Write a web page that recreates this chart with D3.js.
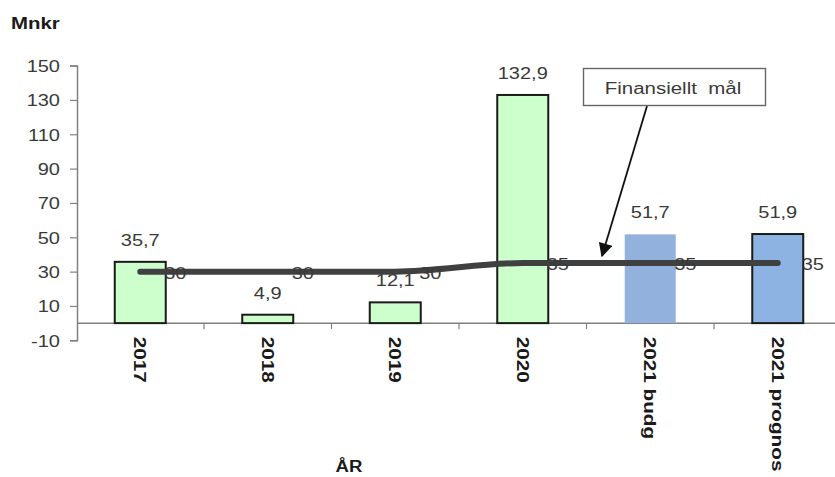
<!DOCTYPE html>
<html><head><meta charset="utf-8">
<script src="https://cdn.jsdelivr.net/npm/d3@7"></script>
<style>html,body{margin:0;padding:0;background:#fff;}svg{display:block;font-family:"Liberation Sans",Arial,sans-serif;}</style>
</head><body>
<svg id="c" width="835" height="477"></svg>
<script>
const categories = ["2017","2018","2019","2020","2021 budg","2021 prognos"];
const barValues = [35.7, 4.9, 12.1, 132.9, 51.7, 51.9];
const barLabels = ["35,7","4,9","12,1","132,9","51,7","51,9"];
const targetValues = [30, 30, 30, 35, 35, 35];
const yTicks = [-10, 10, 30, 50, 70, 90, 110, 130, 150];
const barFills = ["#ccffcc","#ccffcc","#ccffcc","#ccffcc","#92b1dc","#8db3e2"];
const barStroked = [true,true,true,true,false,true];

const SX = 1.25; // horizontal stretch of the reference's text
const svg = d3.select("#c");
const x = d3.scaleBand().domain(categories).range([76.5, 841.5]).paddingInner(0.6).paddingOuter(0.3);
const xb = d3.scaleBand().domain(categories).range([76.5, 841.5]);
const y = d3.scaleLinear().domain([-10, 150]).range([340.3, 65.6]);

// y axis
const yAxis = svg.append("g").attr("transform","translate(77,0)")
  .call(d3.axisLeft(y).tickValues(yTicks).tickSize(7).tickPadding(10).tickFormat(d => String(d)));
yAxis.select(".domain").attr("stroke","#808080").attr("stroke-width",1.5);
yAxis.selectAll(".tick line").attr("stroke","#808080").attr("stroke-width",1.2);
yAxis.selectAll(".tick text").attr("font-size",16).attr("fill","#3a3a3a")
  .attr("font-family","Liberation Sans, Arial, sans-serif")
  .attr("x",0).attr("dy",null).attr("y",6)
  .attr("transform",`translate(-17,0) scale(${SX},1)`);

// x axis at 0
const xAxisG = svg.append("g").attr("transform",`translate(0,${y(0)})`);
xAxisG.append("line").attr("x1",77).attr("x2",835).attr("y1",0).attr("y2",0).attr("stroke","#808080").attr("stroke-width",1.5);
xAxisG.selectAll("line.tk").data(categories.slice(1)).enter().append("line").attr("class","tk")
  .attr("x1",d=>xb(d)).attr("x2",d=>xb(d)).attr("y1",0).attr("y2",6).attr("stroke","#808080").attr("stroke-width",1.2);

// bars
svg.selectAll("rect.bar").data(barValues).enter().append("rect").attr("class","bar")
  .attr("x",(d,i)=>x(categories[i]))
  .attr("width",x.bandwidth())
  .attr("y",d=>y(d))
  .attr("height",d=>y(0)-y(d))
  .attr("fill",(d,i)=>barFills[i])
  .attr("stroke",(d,i)=>barStroked[i]?"#1a1a1a":"none")
  .attr("stroke-width",2);

// bar labels
svg.selectAll("text.bl").data(barValues).enter().append("text").attr("class","bl")
  .attr("transform",(d,i)=>`translate(${x(categories[i])+x.bandwidth()/2},${y(d)-16}) scale(${SX},1)`)
  .attr("text-anchor","middle").attr("font-size",16).attr("fill","#3a3a3a")
  .text((d,i)=>barLabels[i]);

// target line
const cx = c => xb(c) + xb.bandwidth()/2;
const line = d3.line().x((d,i)=>cx(categories[i])).y(d=>y(d)).curve(d3.curveMonotoneX);
svg.append("path").datum(targetValues).attr("d",line).attr("fill","none")
  .attr("stroke","#404040").attr("stroke-width",6).attr("stroke-linecap","round");

// target labels
svg.selectAll("text.tl").data(targetValues).enter().append("text").attr("class","tl")
  .attr("transform",(d,i)=>`translate(${cx(categories[i])+24},${y(d)+7}) scale(${SX},1)`)
  .attr("font-size",16).attr("fill","#3a3a3a")
  .text(d=>d);

// category labels rotated
svg.selectAll("text.cl").data(categories).enter().append("text").attr("class","cl")
  .attr("transform",d=>`translate(${cx(d)-6},${y(0)+13.5}) rotate(90) scale(1.22,1)`)
  .attr("font-size",17).attr("font-weight","bold").attr("fill","#1a1a1a")
  .text(d=>d);

// titles
svg.append("text").attr("transform","translate(11,29) scale(1.2,1)").attr("font-size",17).attr("font-weight","bold").attr("fill","#1a1a1a").text("Mnkr");
svg.append("text").attr("transform","translate(349,472) scale(1.16,1)").attr("text-anchor","middle").attr("font-size",16).attr("font-weight","bold").attr("fill","#1a1a1a").text("ÅR");

// annotation
svg.append("defs").append("marker").attr("id","ah").attr("viewBox","0 0 10 10").attr("refX",9).attr("refY",5)
  .attr("markerWidth",16).attr("markerHeight",14).attr("orient","auto").attr("markerUnits","userSpaceOnUse")
  .append("path").attr("d","M0,0 L10,5 L0,10 z").attr("fill","#111");
svg.append("line").attr("x1",647).attr("y1",106).attr("x2",602).attr("y2",256)
  .attr("stroke","#111").attr("stroke-width",1.8).attr("marker-end","url(#ah)");
svg.append("rect").attr("x",583.5).attr("y",68.5).attr("width",182).attr("height",37)
  .attr("fill","#fff").attr("stroke","#666").attr("stroke-width",1.4);
svg.append("text").attr("transform","translate(673,94) scale(1.28,1)").attr("text-anchor","middle").attr("font-size",16).attr("fill","#3a3a3a")
  .text("Finansiellt  mål").attr("xml:space","preserve").style("white-space","pre");
</script>
</body></html>
